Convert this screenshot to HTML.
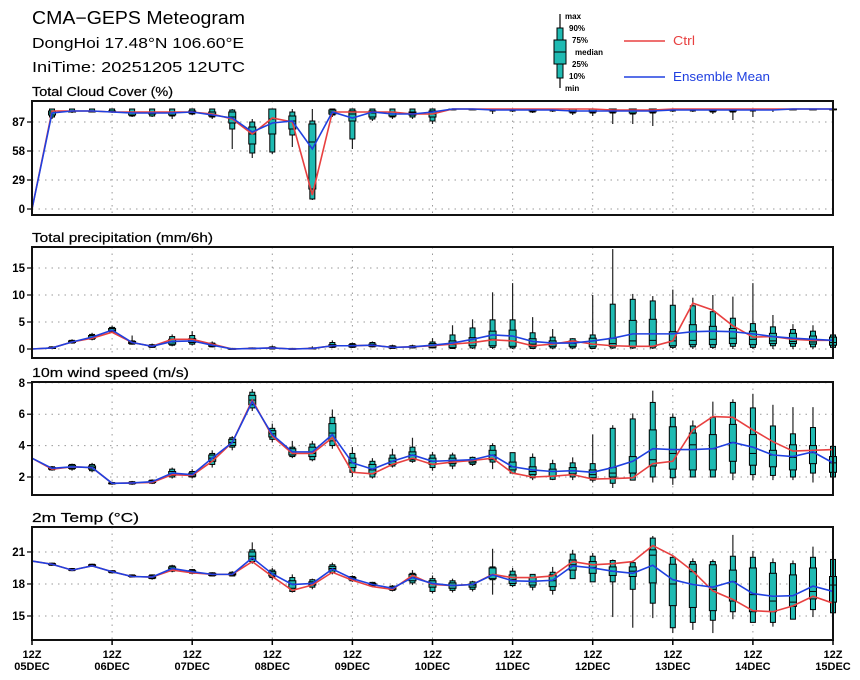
<!DOCTYPE html>
<html><head><meta charset="utf-8"><style>
html,body{margin:0;padding:0;background:#fff;}
svg{display:block;font-family:"Liberation Sans",sans-serif;}
</style></head><body>
<svg id="chart" width="860" height="680" viewBox="0 0 860 680" xmlns="http://www.w3.org/2000/svg">
<text x="32" y="24" font-size="18" textLength="213" lengthAdjust="spacingAndGlyphs">CMA−GEPS Meteogram</text>
<text x="32" y="48" font-size="15" textLength="212" lengthAdjust="spacingAndGlyphs">DongHoi 17.48°N 106.60°E</text>
<text x="32" y="72" font-size="15" textLength="213" lengthAdjust="spacingAndGlyphs">IniTime: 20251205 12UTC</text>
<g>
<line x1="560" y1="14" x2="560" y2="88" stroke="#000" stroke-width="1.2"/>
<rect x="557" y="28" width="6" height="50" fill="#1fbab2" stroke="#000"/>
<rect x="554" y="40" width="12" height="24" fill="#1fbab2" stroke="#000"/>
<line x1="554" y1="52" x2="566" y2="52" stroke="#000"/>
<g font-size="8" font-weight="bold">
<text x="565" y="19">max</text><text x="569" y="31">90%</text><text x="572" y="43">75%</text>
<text x="575" y="55">median</text><text x="572" y="67">25%</text><text x="569" y="79">10%</text><text x="565" y="91">min</text>
</g>
<line x1="624" y1="41" x2="665" y2="41" stroke="#e84040" stroke-width="1.5"/>
<text x="673" y="45" font-size="12.5" fill="#e84040" textLength="22" lengthAdjust="spacingAndGlyphs">Ctrl</text>
<line x1="624" y1="77" x2="665" y2="77" stroke="#2040e0" stroke-width="1.5"/>
<text x="673" y="81" font-size="12.5" fill="#2040e0" textLength="97" lengthAdjust="spacingAndGlyphs">Ensemble Mean</text>
</g>
</svg>
<script>
// Cloud cover (%)
const cloudCtrl=[0,98,98,98,97,97,97,97,97,95,90,75,91,87,14,97,97,97,97,95,95,100,100,100,100,100,100,100,100,99,99,99,100,100,100,100,100,100,100,100,100];
const cloudMean=[0,96,98,98,97,96,96,96,97,94,91,77,86,88,60,97,91,97,95,95,97,100,100,99,99,99,99,98,98,98,98,98,99,99,99,99,99,99,100,100,100];
const cloudMin=[null,90,96,97,96,92,92,90,94,90,60,51,55,62,9,92,60,88,90,90,85,99,100,95,97,96,97,94,93,85,85,83,97,97,95,89,92,97,100,100,100];
const cloudP10=[null,92,97,97,97,93,93,93,95,92,80,56,57,74,10,94,70,90,92,92,88,100,100,98,98,97,98,96,96,96,95,96,98,98,97,97,98,99,100,100,100];
const cloudP25=[null,94,97,98,97,94,95,94,96,93,86,65,75,80,20,95,88,92,93,94,92,100,100,99,99,98,99,97,97,97,96,97,99,99,98,98,99,100,100,100,100];
const cloudMed=[null,96,98,98,97,96,96,96,97,95,92,75,90,88,67,97,95,96,95,96,95,100,100,100,100,99,100,98,98,99,98,99,100,100,99,99,100,100,100,100,100];
const cloudP75=[null,98,98,98,98,97,97,97,98,97,97,82,100,93,85,99,98,98,97,97,98,100,100,100,100,100,100,100,100,100,100,100,100,100,100,100,100,100,100,100,100];
const cloudP90=[null,100,100,100,100,100,100,100,100,100,99,87,100,97,88,100,100,100,100,100,100,100,100,100,100,100,100,100,100,100,100,100,100,100,100,100,100,100,100,100,100];
const cloudMax=[null,100,100,100,100,100,100,100,100,100,100,90,100,100,100,100,100,100,100,100,100,100,100,100,100,100,100,100,100,100,100,100,100,100,100,100,100,100,100,100,100];
const cloudTicks=[0,29,58,87];
// Precipitation (mm/6h)
const precCtrl=[0,0.2,1.3,2.0,3.1,1.2,0.5,1.8,1.8,0.9,0,0.1,0.2,0,0.1,0.6,0.6,0.7,0.3,0.4,0.6,0.9,1.2,1.7,1.5,0.6,0.9,1.5,0.9,0.6,0.5,0.5,1.5,8.5,7.2,4.3,2.2,2.3,1.8,1.6,1.6];
const precMean=[0,0.2,1.3,2.2,3.5,1.2,0.5,1.4,1.5,0.7,0,0.1,0.2,0,0.1,0.6,0.6,0.7,0.3,0.4,0.7,1.1,1.8,2.6,2.4,1.4,1.1,1.1,1.5,2.0,2.8,2.8,2.8,3.2,3.3,3.2,2.8,2.3,2.0,1.8,1.6];
const precMin=[null,0,1.0,1.6,3.0,0.8,0.2,0.5,0.7,0.3,0,0,0,0,0,0.2,0.2,0.3,0.1,0.1,0.1,0,0,0,0,0,0,0,0,0,0,0,0,0,0,0,0,0,0,0,0];
const precP10=[null,0.1,1.1,1.8,3.1,0.9,0.3,0.7,0.9,0.4,0,0,0,0,0,0.3,0.3,0.4,0.1,0.2,0.2,0.1,0.2,0.3,0.2,0.1,0.2,0.2,0.1,0.2,0.2,0.2,0.3,0.4,0.3,0.5,0.3,0.6,0.5,0.4,0.3];
const precP25=[null,0.1,1.2,2.0,3.3,1.0,0.4,0.9,1.2,0.5,0,0,0.1,0,0,0.4,0.4,0.5,0.2,0.3,0.3,0.3,0.6,0.6,0.5,0.4,0.5,0.5,0.4,0.5,0.5,0.5,0.6,0.8,0.8,1.0,0.8,1.0,1.0,0.9,0.7];
const precMed=[null,0.2,1.3,2.2,3.5,1.2,0.5,1.3,1.5,0.7,0,0.1,0.2,0,0.1,0.6,0.6,0.7,0.3,0.4,0.6,0.8,1.2,1.8,1.5,0.9,1.0,1.0,0.9,1.0,1.5,1.6,1.5,1.6,1.8,2.0,1.8,1.5,1.4,1.3,1.2];
const precP75=[null,0.3,1.5,2.5,3.8,1.4,0.7,1.8,1.9,0.9,0.1,0.2,0.3,0.1,0.2,0.8,0.8,0.9,0.5,0.5,1.0,1.5,2.1,3.3,3.5,1.9,1.5,1.5,2.0,2.0,5.3,5.5,3.2,4.5,4.2,3.8,3.3,2.9,2.9,2.4,2.2];
const precP90=[null,0.4,1.6,2.7,4.0,1.5,0.8,2.3,2.5,1.1,0.1,0.2,0.4,0.1,0.2,1.2,1.0,1.2,0.6,0.6,1.3,2.6,3.9,5.4,5.4,3.0,2.2,1.9,2.6,8.3,9.2,8.9,8.1,8.0,6.9,5.7,4.7,4.1,3.6,3.3,2.6];
const precMax=[null,0.5,1.8,3.0,4.3,2.5,1.0,2.7,3.3,1.4,0.2,0.3,0.6,0.2,0.5,1.6,1.2,1.4,0.8,0.8,2.0,4.4,5.5,10.5,12.2,5.9,3.7,2.0,10,18.5,10.2,9.8,11,9.5,10,9.7,12.2,6.3,4.6,4.4,2.5];
const precTicks=[0,5,10,15];
// 10m wind (m/s)
const windCtrl=[3.2,2.5,2.65,2.6,1.6,1.62,1.65,2.15,2.1,3.0,4.2,6.9,4.6,3.5,3.5,4.5,2.3,2.2,2.8,3.2,2.8,2.95,3.05,3.2,2.25,2.0,2.05,2.15,1.87,1.9,1.95,2.85,3.0,5.0,5.85,5.8,5.0,4.25,3.65,3.7,3.75];
const windMean=[3.2,2.55,2.65,2.6,1.6,1.62,1.7,2.25,2.15,3.2,4.2,6.8,4.7,3.6,3.6,4.7,2.9,2.5,3.0,3.4,3.0,3.05,3.1,3.4,2.65,2.45,2.35,2.4,2.3,2.6,3.0,3.8,3.75,3.75,3.8,4.2,3.9,3.4,3.3,3.6,2.9];
const windMin=[null,2.4,2.4,2.3,1.5,1.5,1.55,1.9,1.9,2.6,3.7,6.2,4.2,3.2,3.0,3.8,2.0,1.9,2.6,2.9,2.4,2.5,2.7,2.5,2.2,1.8,1.8,1.8,1.65,1.3,1.8,1.65,1.5,2.0,2.0,1.8,1.8,1.8,1.8,1.65,1.9];
const windP10=[null,2.45,2.5,2.4,1.55,1.55,1.6,2.0,2.0,2.8,3.9,6.4,4.4,3.3,3.1,4.0,2.3,2.0,2.7,3.0,2.6,2.7,2.8,2.95,2.25,1.95,1.85,2.0,1.8,1.6,1.8,2.0,1.95,2.0,2.0,2.25,2.15,2.1,2.0,2.25,2.0];
const windP25=[null,2.5,2.55,2.5,1.58,1.58,1.65,2.1,2.05,3.0,4.0,6.6,4.55,3.4,3.3,4.3,2.6,2.2,2.8,3.1,2.8,2.85,2.9,3.1,2.45,2.15,2.05,2.2,1.95,2.0,2.25,2.7,2.5,2.45,2.45,3.0,2.75,2.65,2.45,2.85,2.3];
const windMed=[null,2.55,2.65,2.6,1.6,1.62,1.7,2.2,2.15,3.2,4.2,6.9,4.75,3.6,3.5,4.8,2.9,2.45,3.0,3.4,3.0,3.0,3.0,3.4,2.65,2.35,2.35,2.4,2.15,2.25,2.25,3.1,3.5,4.05,3.8,4.2,3.5,3.4,3.25,3.55,2.9];
const windP75=[null,2.6,2.75,2.7,1.62,1.66,1.75,2.35,2.25,3.4,4.4,7.2,4.95,3.8,3.9,5.4,3.2,2.8,3.2,3.6,3.2,3.2,3.1,3.7,2.95,2.65,2.5,2.6,2.45,2.6,3.3,5.0,5.2,4.8,4.7,5.35,4.7,3.7,4.05,4.0,3.3];
const windP90=[null,2.65,2.8,2.8,1.65,1.7,1.8,2.5,2.35,3.5,4.5,7.4,5.1,3.9,4.1,5.8,3.5,3.0,3.4,3.9,3.4,3.4,3.25,4.0,3.55,3.25,2.85,2.9,2.85,5.1,5.7,6.75,5.8,5.25,5.8,6.75,6.4,5.25,4.75,5.15,3.95];
const windMax=[null,2.7,2.85,2.9,1.7,1.75,1.85,2.6,2.5,3.7,4.6,7.6,5.4,4.3,4.3,6.3,3.9,3.2,3.8,4.5,3.6,3.55,3.3,4.15,3.55,3.5,3.1,3.25,4.7,5.3,6.05,7.5,6.05,5.6,6.8,6.95,7.3,6.6,6.45,6.45,3.95];
const windTicks=[2,4,6,8];
// 2m temperature (°C)
const tempCtrl=[20.15,19.85,19.3,19.7,19.15,18.7,18.65,19.3,19.05,18.9,18.9,20.1,18.7,17.4,17.9,19.1,18.35,17.75,17.5,18.8,17.95,17.85,17.95,18.9,18.6,18.6,18.75,20.1,19.8,19.9,20.1,21.6,20.65,19.2,17.35,16.55,15.5,15.4,15.95,16.85,16.2];
const tempMean=[20.15,19.85,19.3,19.7,19.15,18.7,18.65,19.45,19.15,18.9,18.9,20.45,18.95,17.95,18.05,19.4,18.5,17.95,17.6,18.6,18.05,17.85,17.95,18.85,18.3,18.25,18.35,19.7,19.5,19.2,19.0,19.75,18.4,17.95,17.7,18.25,17.1,16.85,16.9,17.8,17.3];
const tempMin=[null,19.7,19.2,19.6,19.0,18.6,18.4,19.1,18.9,18.7,18.7,19.9,18.4,17.2,17.5,18.9,18.2,17.7,17.3,17.9,17.1,17.2,17.3,17.0,17.7,17.4,17.0,18.5,18.2,14.9,13.9,14.8,13.4,13.7,13.4,14.7,14.4,14.0,14.7,14.9,15.3];
const tempP10=[null,19.75,19.25,19.65,19.05,18.65,18.5,19.2,19.0,18.75,18.75,20.1,18.6,17.3,17.7,19.1,18.3,17.8,17.4,18.1,17.3,17.4,17.5,18.4,17.85,17.7,17.4,18.5,18.2,18.2,17.5,16.2,13.9,14.4,14.6,15.4,14.4,14.4,14.7,15.6,15.3];
const tempP25=[null,19.8,19.3,19.7,19.1,18.7,18.55,19.35,19.1,18.8,18.85,20.3,18.75,17.6,17.9,19.3,18.4,17.85,17.5,18.3,17.7,17.6,17.7,18.5,18.05,17.9,17.75,19.3,19.0,18.8,18.7,18.1,15.97,15.8,15.5,16.4,15.4,15.4,15.9,16.6,16.3];
const tempMed=[null,19.85,19.35,19.75,19.15,18.75,18.65,19.45,19.15,18.9,18.9,20.6,18.95,18.0,18.05,19.45,18.5,17.95,17.6,18.6,18.0,17.9,17.9,18.85,18.4,18.2,18.3,19.8,19.55,19.2,19.2,20.7,18.0,19.15,17.5,18.2,17.0,16.4,16.3,17.3,17.9];
const tempP75=[null,19.9,19.4,19.8,19.2,18.8,18.75,19.6,19.25,19.0,19.0,21.0,19.15,18.3,18.2,19.65,18.6,18.05,17.7,18.9,18.3,18.1,18.0,19.5,18.85,18.6,18.85,20.25,20.1,19.6,19.6,21.2,19.85,19.85,19.8,19.3,19.5,19.0,18.85,19.5,18.7];
const tempP90=[null,19.95,19.45,19.85,19.25,18.85,18.85,19.7,19.35,19.05,19.1,21.2,19.3,18.6,18.4,19.8,18.7,18.15,17.8,19.0,18.5,18.3,18.2,19.6,19.2,18.9,19.1,20.8,20.6,20.2,20.0,22.3,20.5,20.1,20.1,20.6,20.5,20.0,19.9,20.5,20.3];
const tempMax=[null,20.0,19.5,19.9,19.3,18.9,18.9,19.8,19.4,19.1,19.2,21.9,19.5,18.9,18.5,20.0,18.8,18.2,17.9,19.3,18.8,18.5,18.3,21.3,19.5,18.9,19.6,21.2,20.9,20.3,20.2,22.5,20.6,20.4,20.3,22.6,21.1,20.4,20.2,21.5,20.3];
const tempTicks=[15,18,21];
const dayLabels=["05DEC","06DEC","07DEC","08DEC","09DEC","10DEC","11DEC","12DEC","13DEC","14DEC","15DEC"];

const NS="http://www.w3.org/2000/svg";
const svg=document.getElementById('chart');
const X0=32,X1=833,NSTEP=40;
function xs(i){return X0+(X1-X0)*i/NSTEP;}
function mk(tag,attrs,parent){const e=document.createElementNS(NS,tag);for(const k in attrs)e.setAttribute(k,attrs[k]);(parent||svg).appendChild(e);return e;}

function panel(cfg){
  const g=mk('g',{});
  
  
  const ys=v=>cfg.bottom-(v-cfg.vmin)*(cfg.bottom-cfg.top)/(cfg.vmax-cfg.vmin);
  const t=mk('text',{x:32,y:cfg.top-5,'font-size':12.5,textLength:cfg.titleLen,lengthAdjust:'spacingAndGlyphs','stroke':'#000','stroke-width':0.2},g);
  t.textContent=cfg.title;
  
  
  for(let d=1;d<10;d++){
    const x=xs(d*4);
    const l=mk('line',{x1:x,x2:x,y1:cfg.top,y2:cfg.bottom,stroke:'#999','stroke-dasharray':'1.5,5','stroke-width':1},g);
    
    
  }
  cfg.ticks.forEach(v=>{
    const y=ys(v);
    const l=mk('line',{x1:X0,x2:X1,y1:y,y2:y,stroke:'#999','stroke-dasharray':'1.5,5','stroke-width':1},g);
    
    
    mk('line',{x1:X0-5,x2:X0,y1:y,y2:y,stroke:'#000','stroke-width':1.2},g);
    const tl=mk('text',{x:X0-7,y:y+4,'font-size':11.5,'font-weight':'bold','text-anchor':'end'},g);
    tl.textContent=v;
    
    
  });
  for(let i=0;i<=NSTEP;i++){
    if(cfg.mn[i]==null)continue;
    const x=xs(i);
    const b=mk('g',{},g);
    
    
    mk('line',{x1:x,x2:x,y1:ys(cfg.mn[i]),y2:ys(cfg.mx[i]),stroke:'#222','stroke-width':1.2},b);
    const y90=ys(cfg.p90[i]),y10=ys(cfg.p10[i]);
    mk('rect',{x:x-2.5,y:y90,width:5,height:Math.max(0.8,y10-y90),fill:'#1fbab2',stroke:'#000','stroke-width':1},b);
    const y75=ys(cfg.p75[i]),y25=ys(cfg.p25[i]);
    mk('rect',{x:x-3.5,y:y75,width:7,height:Math.max(0.8,y25-y75),fill:'#1fbab2',stroke:'#000','stroke-width':1},b);
    const ym=ys(cfg.med[i]);
    mk('line',{x1:x-3.5,x2:x+3.5,y1:ym,y2:ym,stroke:'#000','stroke-width':1},b);
  }
  const line=(arr,col,name)=>{
    const p=mk('polyline',{points:arr.map((v,i)=>xs(i)+','+ys(v)).join(' '),fill:'none',stroke:col,'stroke-width':1.6},g);
    
    
  };
  line(cfg.ctrl,'#e84040','ctrl-line');
  line(cfg.mean,'#2040e0','ensemble-mean-line');
  const f=mk('rect',{x:X0,y:cfg.top,width:X1-X0,height:cfg.bottom-cfg.top,fill:'none',stroke:'#111','stroke-width':2},g);
  
  
  return ys;
}
panel({name:'cloud-cover-panel',title:'Total Cloud Cover (%)',titleLen:141,top:101,bottom:215,vmin:-6,vmax:108,ticks:cloudTicks,
  ctrl:cloudCtrl,mean:cloudMean,mn:cloudMin,p10:cloudP10,p25:cloudP25,med:cloudMed,p75:cloudP75,p90:cloudP90,mx:cloudMax});
panel({name:'precipitation-panel',title:'Total precipitation (mm/6h)',titleLen:181,top:247,bottom:358,vmin:-1.667,vmax:18.889,ticks:precTicks,
  ctrl:precCtrl,mean:precMean,mn:precMin,p10:precP10,p25:precP25,med:precMed,p75:precP75,p90:precP90,mx:precMax});
panel({name:'wind-speed-panel',title:'10m wind speed (m/s)',titleLen:157,top:382,bottom:495,vmin:0.853,vmax:8.051,ticks:windTicks,
  ctrl:windCtrl,mean:windMean,mn:windMin,p10:windP10,p25:windP25,med:windMed,p75:windP75,p90:windP90,mx:windMax});
panel({name:'temperature-panel',title:'2m Temp (°C)',titleLen:107,top:527,bottom:640,vmin:12.75,vmax:23.34,ticks:tempTicks,
  ctrl:tempCtrl,mean:tempMean,mn:tempMin,p10:tempP10,p25:tempP25,med:tempMed,p75:tempP75,p90:tempP90,mx:tempMax});
dayLabels.forEach((d,k)=>{
  const x=xs(k*4);
  mk('line',{x1:x,x2:x,y1:640,y2:645,stroke:'#000','stroke-width':1.5});
  const t1=mk('text',{x:x,y:658,'font-size':11,'font-weight':'bold','text-anchor':'middle'});
  t1.textContent='12Z';
  
  
  const t2=mk('text',{x:x,y:670,'font-size':11,'font-weight':'bold','text-anchor':'middle'});
  t2.textContent=d;
  
  
});
</script>
</body></html>
